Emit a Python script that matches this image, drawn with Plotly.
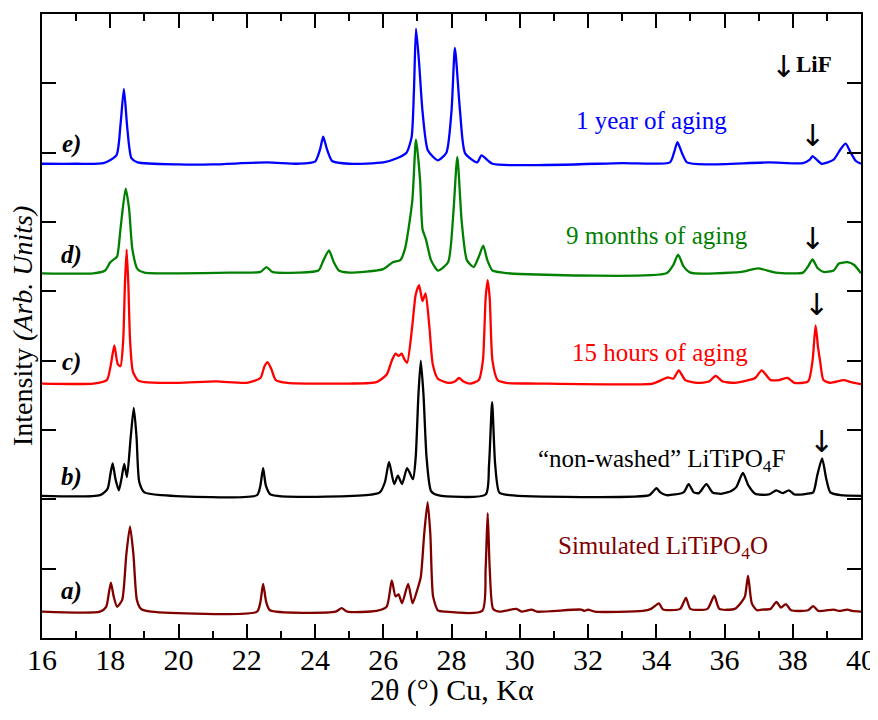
import plotly.graph_objects as go

# ---------------- data ----------------
# a) Simulated LiTiPO4O (maroon)
a_x = [16.0, 17.7, 17.88, 17.96, 18.02, 18.1, 18.2, 18.35, 18.47, 18.58, 18.68, 18.78, 18.9, 19.2,
       22.3, 22.4, 22.48, 22.57, 22.68, 24.6, 24.78, 24.95, 25.8, 26.1, 26.25, 26.36, 26.45, 26.55,
       26.73, 26.86, 27.0, 27.1, 27.2, 27.3, 27.38, 27.46, 27.6, 27.8, 28.9, 29.0, 29.06, 29.12, 29.22,
       29.4, 29.9, 30.05, 30.35, 30.5, 31.8, 31.9, 32.0, 32.2, 33.6, 33.85, 34.08, 34.2, 34.7, 34.87,
       35.0, 35.5, 35.7, 35.85, 36.3, 36.5, 36.6, 36.69, 36.8, 36.95, 37.1, 37.35, 37.52, 37.65, 37.8,
       37.95, 38.45, 38.6, 38.75, 39.2, 39.35, 39.6, 39.75, 40.0]
a_y = [0.38, 0.38, 0.45, 0.65, 0.80, 0.60, 0.45, 0.55, 1.20, 1.61, 1.20, 0.55, 0.42, 0.38,
       0.38, 0.52, 0.78, 0.52, 0.40, 0.38, 0.43, 0.38, 0.39, 0.45, 0.83, 0.60, 0.63, 0.50,
       0.78, 0.50, 0.70, 0.88, 1.50, 1.96, 1.50, 0.60, 0.40, 0.38, 0.39, 1.00, 1.80, 1.00, 0.42,
       0.38, 0.42, 0.38, 0.41, 0.38, 0.41, 0.39, 0.41, 0.38, 0.39, 0.42, 0.50, 0.41, 0.42, 0.58,
       0.42, 0.42, 0.61, 0.42, 0.42, 0.52, 0.60, 0.90, 0.50, 0.40, 0.41, 0.42, 0.52, 0.44, 0.49,
       0.40, 0.40, 0.46, 0.39, 0.41, 0.39, 0.41, 0.39, 0.38]

# b) "non-washed" LiTiPO4F (black)
b_x = [16.0, 17.7, 17.92, 18.0, 18.07, 18.15, 18.25, 18.33, 18.41, 18.49, 18.6, 18.69, 18.77, 18.85,
       19.0, 19.5, 22.3, 22.4, 22.48, 22.56, 22.7, 25.5, 25.9, 26.05, 26.17, 26.32, 26.43, 26.55,
       26.7, 26.87, 26.95, 27.03, 27.1, 27.18, 27.27, 27.4, 27.6, 29.0, 29.1, 29.19, 29.28, 29.4,
       29.7, 33.8, 33.92, 34.01, 34.12, 34.3, 34.8, 34.95, 35.1, 35.25, 35.47, 35.65, 35.9, 36.2,
       36.35, 36.54, 36.7, 36.9, 37.3, 37.52, 37.7, 37.89, 38.05, 38.4, 38.6, 38.72, 38.86, 38.98,
       39.1, 39.4, 40.0]
b_y = [2.05, 2.06, 2.15, 2.35, 2.52, 2.30, 2.13, 2.30, 2.51, 2.32, 2.90, 3.32, 2.90, 2.25,
       2.10, 2.06, 2.06, 2.20, 2.45, 2.20, 2.07, 2.06, 2.10, 2.25, 2.54, 2.22, 2.34, 2.22,
       2.45, 2.29, 2.60, 3.50, 4.00, 3.50, 2.60, 2.12, 2.06, 2.07, 2.50, 3.40, 2.50, 2.10,
       2.06, 2.06, 2.12, 2.16, 2.10, 2.06, 2.10, 2.22, 2.10, 2.09, 2.22, 2.10, 2.08, 2.12,
       2.18, 2.38, 2.20, 2.08, 2.07, 2.13, 2.09, 2.13, 2.07, 2.08, 2.10, 2.35, 2.59, 2.30,
       2.10, 2.06, 2.05]

# c) 15 hours of aging (red)
c_x = [16.0, 17.5, 17.9, 18.02, 18.12, 18.22, 18.3, 18.38, 18.43, 18.48, 18.53, 18.58, 18.66, 18.8,
       19.0, 20.0, 21.1, 22.0, 22.4, 22.52, 22.61, 22.72, 22.85, 23.2, 25.0, 25.8, 26.1, 26.25,
       26.36, 26.45, 26.54, 26.62, 26.7, 26.85, 26.95, 27.05, 27.15, 27.24, 27.35, 27.45, 27.6, 27.9,
       28.1, 28.22, 28.35, 28.55, 28.8, 28.92, 29.0, 29.06, 29.12, 29.2, 29.35, 29.6, 30.5, 33.9,
       34.15, 34.34, 34.5, 34.66, 34.85, 35.2, 35.55, 35.74, 35.95, 36.3, 36.7, 36.9, 37.09, 37.35,
       37.6, 37.85, 38.05, 38.45, 38.58, 38.67, 38.74, 38.8, 38.9, 39.1, 39.5, 39.7, 40.0]
c_y = [3.67, 3.67, 3.72, 3.95, 4.22, 3.95, 3.92, 4.30, 5.10, 5.60, 5.10, 4.30, 3.85, 3.72,
       3.69, 3.68, 3.70, 3.68, 3.75, 3.92, 3.98, 3.88, 3.72, 3.68, 3.67, 3.69, 3.80, 4.00,
       4.10, 4.07, 4.10, 4.02, 3.97, 4.50, 4.95, 5.09, 4.86, 4.97, 4.50, 3.95, 3.74, 3.68,
       3.70, 3.75, 3.70, 3.67, 3.72, 4.00, 4.90, 5.16, 4.90, 4.00, 3.72, 3.68, 3.67, 3.67,
       3.72, 3.76, 3.74, 3.86, 3.72, 3.68, 3.70, 3.78, 3.70, 3.68, 3.72, 3.75, 3.86, 3.72,
       3.72, 3.75, 3.68, 3.70, 4.00, 4.51, 4.20, 4.00, 3.72, 3.68, 3.72, 3.69, 3.66]

# d) 9 months of aging (green)
d_x = [16.0, 17.5, 17.85, 18.0, 18.1, 18.2, 18.3, 18.45, 18.55, 18.65, 18.8, 19.0, 20.0, 21.5,
       22.4, 22.58, 22.75, 23.5, 24.1, 24.25, 24.41, 24.55, 24.7, 25.0, 26.0, 26.28, 26.5, 26.64,
       26.85, 26.96, 27.08, 27.15, 27.25, 27.4, 27.6, 27.9, 28.05, 28.17, 28.3, 28.45, 28.65, 28.8,
       28.93, 29.05, 29.2, 29.5, 30.0, 34.3, 34.5, 34.64, 34.8, 35.0, 36.5, 36.98, 37.5, 38.3,
       38.45, 38.58, 38.72, 38.9, 39.2, 39.35, 39.6, 39.8, 40.0]
d_y = [5.26, 5.26, 5.30, 5.42, 5.46, 5.50, 5.90, 6.48, 6.20, 5.60, 5.32, 5.27, 5.26, 5.27,
       5.28, 5.35, 5.28, 5.27, 5.30, 5.45, 5.59, 5.42, 5.30, 5.27, 5.32, 5.42, 5.45, 5.62,
       6.30, 7.19, 6.60, 5.90, 5.75, 5.45, 5.30, 5.42, 6.10, 6.94, 6.00, 5.45, 5.35, 5.50,
       5.66, 5.45, 5.30, 5.27, 5.25, 5.26, 5.38, 5.53, 5.36, 5.27, 5.28, 5.33, 5.27, 5.27,
       5.36, 5.46, 5.34, 5.28, 5.30, 5.40, 5.42, 5.38, 5.26]

# e) 1 year of aging (blue)
e_x = [16.0, 17.0, 17.8, 18.18, 18.3, 18.4, 18.5, 18.62, 18.8, 20.0, 21.0, 22.6, 23.5, 24.0,
       24.15, 24.24, 24.35, 24.5, 25.0, 26.0, 26.4, 26.68, 26.83, 26.9, 26.96, 27.05, 27.15, 27.31,
       27.6, 27.85, 28.0, 28.1, 28.25, 28.4, 28.75, 28.88, 29.2, 33.0, 34.4, 34.52, 34.62, 34.75,
       34.9, 35.5, 37.3, 38.3, 38.5, 38.58, 38.7, 38.85, 39.2, 39.4, 39.55, 39.7, 39.85, 40.0]
e_y = [6.84, 6.84, 6.85, 6.96, 7.40, 7.92, 7.35, 6.92, 6.86, 6.83, 6.83, 6.86, 6.84, 6.87,
       7.05, 7.23, 7.05, 6.88, 6.84, 6.86, 6.92, 7.00, 7.22, 7.90, 8.79, 8.30, 7.60, 7.03,
       6.89, 7.00, 7.60, 8.51, 7.60, 6.99, 6.86, 6.96, 6.84, 6.85, 6.86, 7.00, 7.15, 7.00,
       6.86, 6.83, 6.86, 6.85, 6.90, 6.95, 6.90, 6.84, 6.90, 7.05, 7.13, 7.00, 6.88, 6.84]

series_names = ["Simulated LiTiPO<sub>4</sub>O", "\u201cnon-washed\u201d LiTiPO<sub>4</sub>F",
                "15 hours of aging", "9 months of aging", "1 year of aging"]
series_letters = ["a)", "b)", "c)", "d)", "e)"]
x_tick_vals = [16, 18, 20, 22, 24, 26, 28, 30, 32, 34, 36, 38, 40]

# LiF reflections marked with arrows (2theta) per pattern b, c, d, e
lif_x = [38.84, 38.70, 38.58, 38.58]

# ---------------- figure ----------------
colors = ["#800000", "#000000", "#ff0000", "#008000", "#0000ff"]
xs = [a_x, b_x, c_x, d_x, e_x]
ys = [a_y, b_y, c_y, d_y, e_y]

fig = go.Figure()
for x, y, col, nm in zip(xs, ys, colors, series_names):
    fig.add_trace(go.Scatter(x=x, y=y, mode="lines", name=nm,
                             line=dict(color=col, width=2.3, shape="spline", smoothing=0.6),
                             showlegend=False))

serif = "Liberation Serif"
ann = []
# series names
name_pos = [(34.2, 1.30), (34.14, 2.56), (34.1, 4.12), (34.02, 5.81), (33.87, 7.46)]
for (px, py), nm, col in zip(name_pos, series_names, colors):
    ann.append(dict(x=px, y=py, text=nm, showarrow=False,
                    font=dict(family=serif, size=25, color=col), xanchor="center", yanchor="middle"))
# letters
letter_y = [0.68, 2.32, 3.98, 5.53, 7.12]
for ly, lt in zip(letter_y, series_letters):
    ann.append(dict(x=16.85, y=ly, text="<b><i>" + lt + "</i></b>", showarrow=False,
                    font=dict(family=serif, size=25, color="black"), xanchor="center", yanchor="middle"))
# LiF arrows
arrow_y = [2.84, 4.81, 5.76, 7.25]
for lx, ay in zip(lif_x, arrow_y):
    ann.append(dict(x=lx, y=ay, text="\u2193", showarrow=False,
                    font=dict(family="DejaVu Sans", size=30, color="black"),
                    xanchor="center", yanchor="middle"))
ann.append(dict(x=37.72, y=8.25, text="\u2193", showarrow=False,
                font=dict(family="DejaVu Sans", size=30, color="black"), xanchor="center", yanchor="middle"))
ann.append(dict(x=38.62, y=8.27, text="<b>LiF</b>", showarrow=False,
                font=dict(family=serif, size=23, color="black"), xanchor="center", yanchor="middle"))
# axis titles
ann.append(dict(x=-0.0244, y=0.5, xref="paper", yref="paper", textangle=-90,
                text="Intensity <i>(Arb. Units)</i>", showarrow=False,
                font=dict(family=serif, size=28, color="black"), xanchor="center", yanchor="middle"))
ann.append(dict(x=0.5, y=-0.083, xref="paper", yref="paper",
                text="2\u03b8 (\u00b0) Cu, K\u03b1", showarrow=False,
                font=dict(family=serif, size=30, color="black"), xanchor="center", yanchor="middle"))

# the page places the figure 8 px from the top-left corner of the window
fig.update_layout(
    width=870, height=712,
    margin=dict(l=34, r=17, t=6, b=82, autoexpand=False),
    paper_bgcolor="white", plot_bgcolor="white",
    annotations=ann,
    xaxis=dict(range=[16, 40], tickvals=x_tick_vals, ticks="inside", ticklen=14, tickwidth=1.5,
               tickcolor="black", showline=True, linecolor="black", linewidth=1.5, mirror="allticks",
               showgrid=False, zeroline=False, automargin=False, ticklabelstandoff=-6,
               minor=dict(dtick=1, ticks="inside", ticklen=7, tickwidth=1.5, tickcolor="black", showgrid=False),
               tickfont=dict(family=serif, size=30, color="black")),
    yaxis=dict(range=[0, 9], dtick=1, ticks="inside", ticklen=14, tickwidth=1.5, tickcolor="black",
               showline=True, linecolor="black", linewidth=1.5, mirror="allticks", automargin=False,
               showgrid=False, zeroline=False, showticklabels=False),
)

fig.write_html("out.html")
